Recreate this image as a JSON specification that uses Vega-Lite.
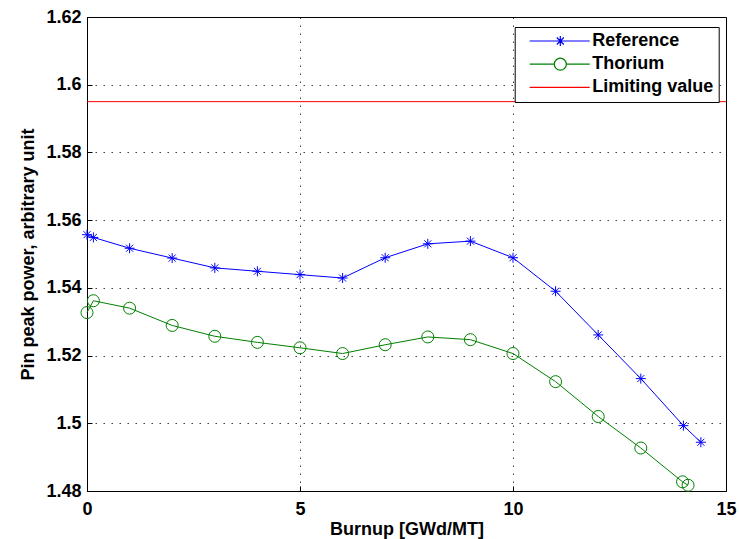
{
  "$schema": "https://vega.github.io/schema/vega-lite/v6.json",
  "width": 639,
  "height": 474,
  "autosize": "none",
  "padding": {"left": 87, "top": 17, "right": 13, "bottom": 48},
  "background": "white",
  "config": {
    "view": {"stroke": "black", "strokeWidth": 1},
    "font": "Liberation Sans",
    "axis": {
      "labelFont": "Liberation Sans", "labelFontWeight": "bold", "labelFontSize": 18, "labelColor": "black",
      "titleFont": "Liberation Sans", "titleFontWeight": "bold", "titleFontSize": 18, "titleColor": "black",
      "domainColor": "black", "domainWidth": 1, "tickColor": "black", "tickSize": -5, "tickWidth": 1,
      "gridColor": "black", "gridDash": [1.5, 6.5], "gridOpacity": 0.75, "gridWidth": 1
    }
  },
  "data": {
    "values": [
      {"series": "Reference", "x": 0, "y": 1.5557},
      {"series": "Reference", "x": 0.15, "y": 1.5549},
      {"series": "Reference", "x": 1, "y": 1.5517},
      {"series": "Reference", "x": 2, "y": 1.5488},
      {"series": "Reference", "x": 3, "y": 1.5459},
      {"series": "Reference", "x": 4, "y": 1.5449},
      {"series": "Reference", "x": 5, "y": 1.5439},
      {"series": "Reference", "x": 6, "y": 1.5429},
      {"series": "Reference", "x": 7, "y": 1.5489},
      {"series": "Reference", "x": 8, "y": 1.5530},
      {"series": "Reference", "x": 9, "y": 1.5538},
      {"series": "Reference", "x": 10, "y": 1.5489},
      {"series": "Reference", "x": 11, "y": 1.5390},
      {"series": "Reference", "x": 12, "y": 1.5261},
      {"series": "Reference", "x": 13, "y": 1.5132},
      {"series": "Reference", "x": 14, "y": 1.4993},
      {"series": "Reference", "x": 14.41, "y": 1.4944},
      {"series": "Thorium", "x": 0, "y": 1.5327},
      {"series": "Thorium", "x": 0.15, "y": 1.5362},
      {"series": "Thorium", "x": 1, "y": 1.5340},
      {"series": "Thorium", "x": 2, "y": 1.5289},
      {"series": "Thorium", "x": 3, "y": 1.5257},
      {"series": "Thorium", "x": 4, "y": 1.5239},
      {"series": "Thorium", "x": 5, "y": 1.5223},
      {"series": "Thorium", "x": 6, "y": 1.5206},
      {"series": "Thorium", "x": 7, "y": 1.5232},
      {"series": "Thorium", "x": 8, "y": 1.5255},
      {"series": "Thorium", "x": 9, "y": 1.5247},
      {"series": "Thorium", "x": 10, "y": 1.5206},
      {"series": "Thorium", "x": 11, "y": 1.5123},
      {"series": "Thorium", "x": 12, "y": 1.5020},
      {"series": "Thorium", "x": 13, "y": 1.4927},
      {"series": "Thorium", "x": 13.98, "y": 1.4827},
      {"series": "Thorium", "x": 14.11, "y": 1.4817},
      {"series": "Limiting value", "x": 0, "y": 1.595},
      {"series": "Limiting value", "x": 15, "y": 1.595}
    ]
  },
  "encoding": {
    "x": {
      "field": "x", "type": "quantitative",
      "scale": {"domain": [0, 15], "nice": false},
      "axis": {"values": [0, 5, 10, 15], "title": "Burnup [GWd/MT]", "labelPadding": 14, "titlePadding": 2, "labelFlush": false}
    },
    "y": {
      "field": "y", "type": "quantitative",
      "scale": {"domain": [1.48, 1.62], "nice": false, "zero": false},
      "axis": {"values": [1.48, 1.5, 1.52, 1.54, 1.56, 1.58, 1.6, 1.62], "format": ".2~f", "title": "Pin peak power, arbitrary unit", "labelPadding": 11, "titlePadding": 8, "labelFlush": false}
    }
  },
  "layer": [
    {
      "mark": {"type": "line", "strokeWidth": 1},
      "encoding": {
        "color": {
          "field": "series", "type": "nominal",
          "scale": {"domain": ["Reference", "Thorium", "Limiting value"], "range": ["#0000ff", "#008000", "#ff0000"]},
          "legend": {
            "orient": "none", "legendX": 427.7, "legendY": 10, "title": null,
            "strokeColor": "black", "fillColor": "white", "padding": 5,
            "symbolSize": 100, "symbolStrokeWidth": 1.2,
            "labelFont": "Liberation Sans", "labelFontWeight": "bold", "labelFontSize": 18, "labelColor": "black",
            "labelOffset": 54.6, "rowPadding": 5.2,
            "encode": {
              "symbols": {
                "update": {
                  "shape": {"signal": "datum.value === 'Reference' ? 'M0.2,0H12.2M5.32,0H7.32M6.32,-1V1M5.62,-0.7L7.02,0.7M5.62,0.7L7.02,-0.7' : (datum.value === 'Thorium' ? 'M0.2,0H5.12M7.52,0H12.2M5.12,0A1.2,1.2 0 1,0 7.52,0A1.2,1.2 0 1,0 5.12,0' : 'M0.2,0H12.2')"}
                }
              }
            }
          }
        }
      }
    },
    {
      "transform": [{"filter": "datum.series !== 'Limiting value'"}],
      "mark": {"type": "point", "filled": false, "strokeWidth": 1, "opacity": 1},
      "encoding": {
        "stroke": {
          "field": "series", "type": "nominal",
          "scale": {"domain": ["Reference", "Thorium"], "range": ["#0000ff", "#008000"]},
          "legend": null
        },
        "shape": {
          "field": "series", "type": "nominal",
          "scale": {"domain": ["Reference", "Thorium"], "range": ["M-1,0H1M0,-1V1M-0.7,-0.7L0.7,0.7M-0.7,0.7L0.7,-0.7", "circle"]},
          "legend": null
        },
        "size": {
          "field": "series", "type": "nominal",
          "scale": {"domain": ["Reference", "Thorium"], "range": [100, 144]},
          "legend": null
        }
      }
    }
  ]
}
